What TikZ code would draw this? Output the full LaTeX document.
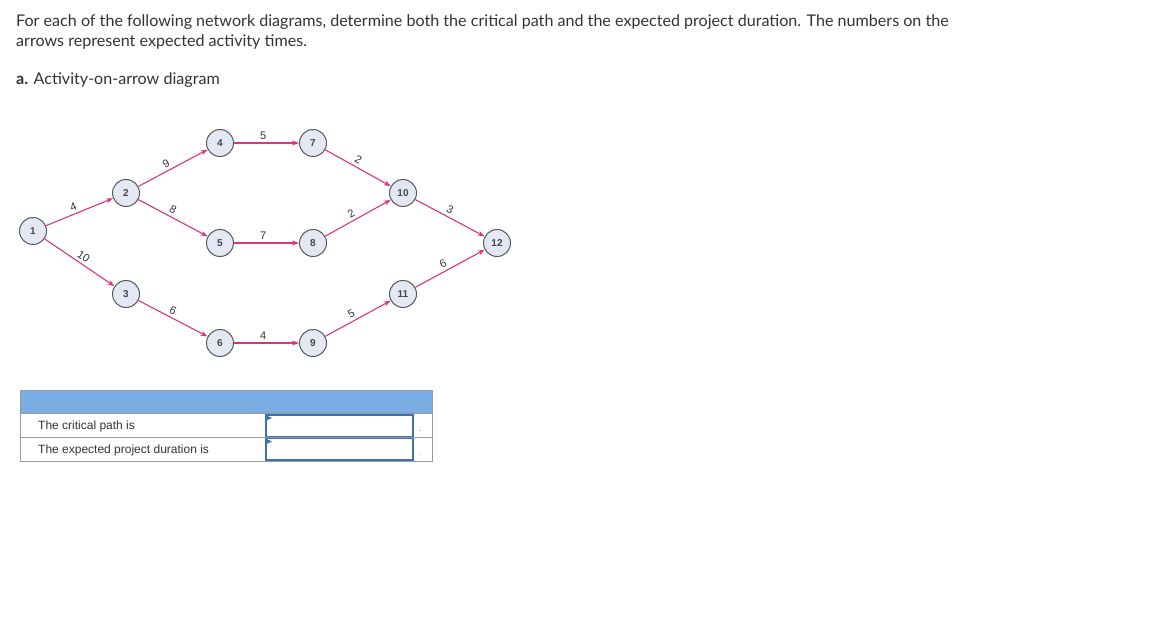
\documentclass[tikz,border=0pt]{standalone}
\usepackage{fontspec}
\setmainfont{Lato}
\newfontfamily\arialf{Liberation Sans}
\usetikzlibrary{arrows.meta}
\definecolor{txt}{HTML}{333333}
\definecolor{arr}{HTML}{D9357F}
\definecolor{nfill}{HTML}{E4E8F4}
\definecolor{nline}{HTML}{5A5A5A}
\definecolor{hdr}{HTML}{7AADE3}
\definecolor{tline}{HTML}{999999}
\definecolor{inbox}{HTML}{3E6FB4}
\tikzset{
  ev/.style={circle,draw=nline,fill=nfill,line width=1pt,minimum size=27pt,inner sep=0pt,font=\arialf\fontsize{10}{12}\selectfont\bfseries,text=txt!90},
  act/.style={draw=arr,line width=1.1pt,-{Stealth[length=7pt,width=5pt]}},
  lab/.style={font=\arialf\fontsize{11}{12}\selectfont,text=txt,sloped,above,inner sep=3pt},
  para/.style={anchor=base west,text=txt,font=\fontsize{16.1}{19}\selectfont,inner sep=0pt},
  cell/.style={anchor=base west,text=txt,font=\arialf\fontsize{12}{14}\selectfont,inner sep=0pt},
  inbx/.style={draw=inbox,line width=1.3pt,fill=white},
  flag/.style={fill=inbox,draw=none},
}
\begin{document}
\begin{tikzpicture}[x=1pt,y=1pt]
\useasboundingbox[fill=white] (0,0) rectangle (1164,-644);
% text
\node[para] (t1) at (16,-27) {For each of the following network diagrams, determine both the critical path and the expected project duration. The numbers on the};
\node[para] (t2) at (16,-46.5) {arrows represent expected activity times.};
\node[para] (t3) at (16,-84.5) {\textbf{a.} Activity-on-arrow diagram};
% nodes
\node[ev] (n1) at (33,-231) {1};
\node[ev] (n2) at (126,-193) {2};
\node[ev] (n3) at (126,-294) {3};
\node[ev] (n4) at (220,-143) {4};
\node[ev] (n5) at (220,-243) {5};
\node[ev] (n6) at (220,-343) {6};
\node[ev] (n7) at (313,-143) {7};
\node[ev] (n8) at (313,-243) {8};
\node[ev] (n9) at (313,-343) {9};
\node[ev] (n10) at (403,-193) {10};
\node[ev] (n11) at (403,-294) {11};
\node[ev] (n12) at (497,-243) {12};
% arrows
\draw[act] (n1) -- node[lab,pos=0.45] {4} (n2);
\draw[act] (n1) -- node[lab,pos=0.5] {10} (n3);
\draw[act] (n2) -- node[lab,pos=0.45] {9} (n4);
\draw[act] (n2) -- node[lab,pos=0.45] {8} (n5);
\draw[act] (n3) -- node[lab,pos=0.45] {6} (n6);
\draw[act] (n4) -- node[lab,pos=0.45] {5} (n7);
\draw[act] (n5) -- node[lab,pos=0.45] {7} (n8);
\draw[act] (n6) -- node[lab,pos=0.45] {4} (n9);
\draw[act] (n7) -- node[lab,pos=0.45] {2} (n10);
\draw[act] (n8) -- node[lab,pos=0.45] {2} (n10);
\draw[act] (n9) -- node[lab,pos=0.45] {5} (n11);
\draw[act] (n10) -- node[lab,pos=0.45] {3} (n12);
\draw[act] (n11) -- node[lab,pos=0.45] {6} (n12);
% table
\fill[hdr] (20,-390) rectangle (432,-413);
\draw[tline,line width=1pt] (20,-390) rectangle (432,-461);
\draw[tline,line width=1pt] (20,-413) -- (432,-413);
\draw[tline,line width=1pt] (20,-437) -- (432,-437);
\node[cell] (c1) at (38,-429) {The critical path is};
\node[cell] (c2) at (38,-453) {The expected project duration is};
\draw[inbx] (266,-415) rectangle (413,-436.5);
\draw[inbx] (266,-438.5) rectangle (413,-460);
\fill[flag] (266.5,-415.5) -- (272,-418) -- (266.5,-420.5) -- cycle;
\fill[flag] (266.5,-439) -- (272,-441.5) -- (266.5,-444) -- cycle;
\fill[orange!60!gray] (420,-430.5) circle (0.6pt);
\fill[gray!60] (420,-454) circle (0.6pt);
\end{tikzpicture}
\end{document}
